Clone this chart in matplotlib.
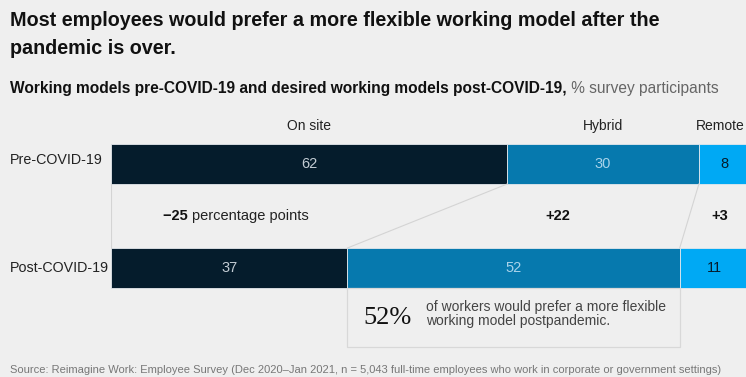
import matplotlib.pyplot as plt
from matplotlib.patches import Rectangle

plt.rcParams['font.family'] = ['Liberation Sans', 'DejaVu Sans']

# survey shares, % of participants
models = ['On site', 'Hybrid', 'Remote']
rows = ['Pre-COVID-19', 'Post-COVID-19']
pre = [62, 30, 8]
post = [37, 52, 11]
change = ['\u221225', '+22', '+3']

colors = ['#051c2c', '#0679ae', '#00a9f4']
label_colors = ['#c3ccd4', '#a9d3ea', '#051c2c']
bg = '#efefef'
W, H = 746, 377

fig = plt.figure(figsize=(W / 100, H / 100), dpi=100, facecolor=bg)

def ftext(x, y, s, **kw):
    # place text using pixel coordinates measured from the top left
    return fig.text(x / W, 1 - y / H, s, **kw)

# x in percent, y in pixels (top down)
ax = fig.add_axes([111 / W, 0, 639 / W, 1])
ax.set_xlim(0, 100)
ax.set_ylim(H, 0)
ax.axis('off')
ax.set_facecolor(bg)

bar_y = {'pre': 164, 'post': 268}
bar_h = 40

def stack(vals, yc):
    left = 0
    bounds = []
    for v, c, tc in zip(vals, colors, label_colors):
        ax.barh(yc, v, left=left, height=bar_h, color=c, edgecolor='#e4e8ec', linewidth=0.6)
        ax.text(left + v / 2, yc, str(v), ha='center', va='center', color=tc, fontsize=10.5)
        bounds.append((left, left + v))
        left += v
    return bounds

pre_b = stack(pre, bar_y['pre'])
post_b = stack(post, bar_y['post'])

top_y = bar_y['pre'] + bar_h / 2
bot_y = bar_y['post'] - bar_h / 2
line_c = '#d4d4d4'

# connectors between segment boundaries
ax.plot([0, 0], [top_y, bot_y], color=line_c, lw=0.8)
for (a0, a1), (b0, b1) in list(zip(pre_b, post_b))[:2]:
    ax.plot([a1, b1], [top_y, bot_y], color=line_c, lw=0.8)

# column headers
for m, (a0, a1) in zip(models, pre_b):
    if m == 'Remote':
        ftext(745, 126, m, ha='right', va='center', color='#222222', fontsize=10)
    else:
        ax.text((a0 + a1) / 2, 126, m, ha='center', va='center', color='#222222', fontsize=10)

# change labels
fig.canvas.draw()
renderer = fig.canvas.get_renderer()
for i, (c, (a0, a1), (b0, b1)) in enumerate(zip(change, pre_b, post_b)):
    if i == 0:
        x = (b0 + b1) / 2 + 1
        t1 = ax.text(x, 216, c + ' ', ha='left', va='center', fontsize=10.5, fontweight='bold', color='#111111')
        t2 = ax.annotate('percentage points', xycoords=t1, xy=(1, 0.5), va='center', ha='left',
                         fontsize=10.5, color='#222222')
        w = t1.get_window_extent(renderer).width + t2.get_window_extent(renderer).width
        t1.set_x(x - (w / 2) * 100 / 639)
    else:
        x = ((a0 + a1) / 2 + (b0 + b1) / 2) / 2
        ax.text(x, 216, c, ha='center', va='center', fontsize=10.5, fontweight='bold', color='#111111')

# callout box under the post-COVID hybrid segment
b0, b1 = post_b[1]
ax.add_patch(Rectangle((b0, bot_y + bar_h), b1 - b0, 59, fill=False, edgecolor='#d8d8d8', lw=0.9))

# row labels
for r, yc in zip(rows, [160, 268]):
    ftext(10, yc, r, ha='left', va='center', fontsize=10.3, color='#222222')

ftext(10, 11, 'Most employees would prefer a more flexible working model after the\npandemic is over.',
      ha='left', va='top', fontsize=14.2, fontweight='bold', color='#111111', linespacing=1.6)
t = ftext(10, 88, 'Working models pre-COVID-19 and desired working models post-COVID-19,',
          ha='left', va='center', fontsize=11.2, fontweight='bold', color='#111111')
ax.annotate(' % survey participants', xycoords=t, xy=(1, 0.5), va='center', ha='left', fontsize=11.2, color='#666666')

ftext(363, 318, '52%', ha='left', va='center', fontsize=19, family=['Liberation Serif', 'DejaVu Serif'], color='#111111')
ftext(426, 314, 'of workers would prefer a more flexible\nworking model postpandemic.', ha='left', va='center',
      fontsize=10, color='#444444', linespacing=0.95)

ftext(10, 370, 'Source: Reimagine Work: Employee Survey (Dec 2020\u2013Jan 2021, n = 5,043 full-time employees who work in corporate or government settings)',
      ha='left', va='center', fontsize=8, color='#777777')

fig.savefig('out.png', dpi=100, facecolor=bg)
